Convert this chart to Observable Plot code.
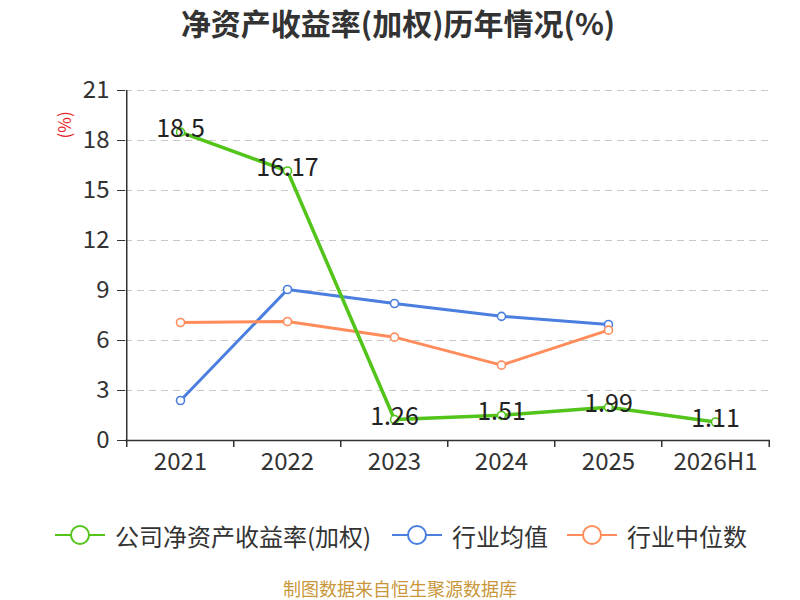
<!DOCTYPE html>
<html>
<head>
<meta charset="utf-8">
<script src="https://cdn.jsdelivr.net/npm/d3@7"></script>
<script src="https://cdn.jsdelivr.net/npm/@observablehq/plot@0.6"></script>
<style>
  html, body { margin: 0; padding: 0; background: #fff; }
  #wrap { position: relative; width: 800px; height: 600px; overflow: hidden; font-family: "Noto Sans CJK SC", "Noto Sans", sans-serif; }
  #title { position: absolute; left: 0; top: 0; width: 796px; text-align: center; font-size: 30px; font-weight: bold; color: #333; line-height: 44px; }
  #unit { position: absolute; left: 50px; top: 113px; color: #e8262a; font-size: 17px; transform: rotate(-90deg); transform-origin: center; width: 26px; text-align: center; }
  #legend { position: absolute; left: 0; top: 515px; width: 800px; height: 40px; }
  .item { position: absolute; top: 0; display: flex; align-items: center; font-size: 24px; color: #333; height: 40px; }
  .item svg { margin-right: 10px; }
  #caption { position: absolute; left: 0; width: 800px; top: 578px; text-align: center; font-size: 18px; color: #c9973a; line-height: 20px; }
  #chart { position: absolute; left: 0; top: 0; }
</style>
</head>
<body>
<div id="wrap">
  <div id="chart"></div>
  <div id="title">净资产收益率(加权)历年情况(%)</div>
  <div id="unit">(%)</div>
  <div id="legend"></div>
  <div id="caption">制图数据来自恒生聚源数据库</div>
</div>
<script>
const categories = ["2021", "2022", "2023", "2024", "2025", "2026H1"];
const companyROE = [18.5, 16.17, 1.26, 1.51, 1.99, 1.11];
const industryMean = [2.4, 9.06, 8.22, 7.45, 6.96];
const industryMedian = [7.08, 7.14, 6.2, 4.52, 6.62];
const yTicks = [0, 3, 6, 9, 12, 15, 18, 21];
const seriesNames = ["公司净资产收益率(加权)", "行业均值", "行业中位数"];
const seriesColors = ["#52c41a", "#4a7fe0", "#ff8c5a"];

const toRows = (vals) => vals.map((v, i) => ({cat: categories[i], v}));
const company = toRows(companyROE);
const mean = toRows(industryMean);
const median = toRows(industryMedian);

const halfStep = (800 - 125 - 30) / categories.length / 2;

const chart = Plot.plot({
  width: 800,
  height: 600,
  marginLeft: 125,
  marginRight: 30,
  marginTop: 90,
  marginBottom: 160,
  style: {fontFamily: "'Noto Sans CJK SC', 'Noto Sans', sans-serif", fontSize: "24px", color: "#333", background: "transparent"},
  x: {type: "point", domain: categories, padding: 0.5, axis: null},
  y: {domain: [0, 21], axis: null},
  marks: [
    Plot.gridY(yTicks.filter(d => d > 0), {stroke: "#c8c8c8", strokeOpacity: 1, strokeDasharray: "7,5", strokeWidth: 1.2}),
    Plot.axisY(yTicks, {anchor: "left", tickSize: 8, tickPadding: 8, fontSize: 24, stroke: "#333", fill: "#333", label: null}),
    Plot.axisX(categories, {anchor: "bottom", tickSize: 0, tickPadding: 12, fontSize: 24, fill: "#333", label: null}),
    Plot.ruleX([categories[0]], {dx: -halfStep, stroke: "#333", strokeWidth: 1.5}),
    Plot.ruleY([0], {stroke: "#333", strokeWidth: 1.5}),
    Plot.ruleX(categories, {dx: -halfStep, insetTop: 350, insetBottom: -7, stroke: "#333", strokeWidth: 1.5}),
    Plot.ruleX([categories[categories.length - 1]], {dx: halfStep, insetTop: 350, insetBottom: -7, stroke: "#333", strokeWidth: 1.5}),
    Plot.line(mean, {x: "cat", y: "v", stroke: seriesColors[1], strokeWidth: 3}),
    Plot.line(median, {x: "cat", y: "v", stroke: seriesColors[2], strokeWidth: 3}),
    Plot.line(company, {x: "cat", y: "v", stroke: seriesColors[0], strokeWidth: 3.5}),
    Plot.dot(mean, {x: "cat", y: "v", r: 4, fill: "white", stroke: seriesColors[1], strokeWidth: 1.6}),
    Plot.dot(median, {x: "cat", y: "v", r: 4, fill: "white", stroke: seriesColors[2], strokeWidth: 1.6}),
    Plot.dot(company, {x: "cat", y: "v", r: 4, fill: "white", stroke: seriesColors[0], strokeWidth: 1.6}),
    Plot.text(company, {x: "cat", y: "v", text: d => String(d.v), dy: -3, fontSize: 25, fill: "#222"})
  ]
});
document.getElementById("chart").appendChild(chart);

const legendPos = [55, 392, 567];
const legend = document.getElementById("legend");
seriesNames.forEach((name, i) => {
  const item = document.createElement("div");
  item.className = "item";
  item.style.left = legendPos[i] + "px";
  item.innerHTML = `<svg width="50" height="24"><line x1="0" y1="12" x2="50" y2="12" stroke="${seriesColors[i]}" stroke-width="2"/><circle cx="25" cy="12" r="9" fill="white" stroke="${seriesColors[i]}" stroke-width="2"/></svg><span>${name}</span>`;
  legend.appendChild(item);
});
</script>
</body>
</html>
